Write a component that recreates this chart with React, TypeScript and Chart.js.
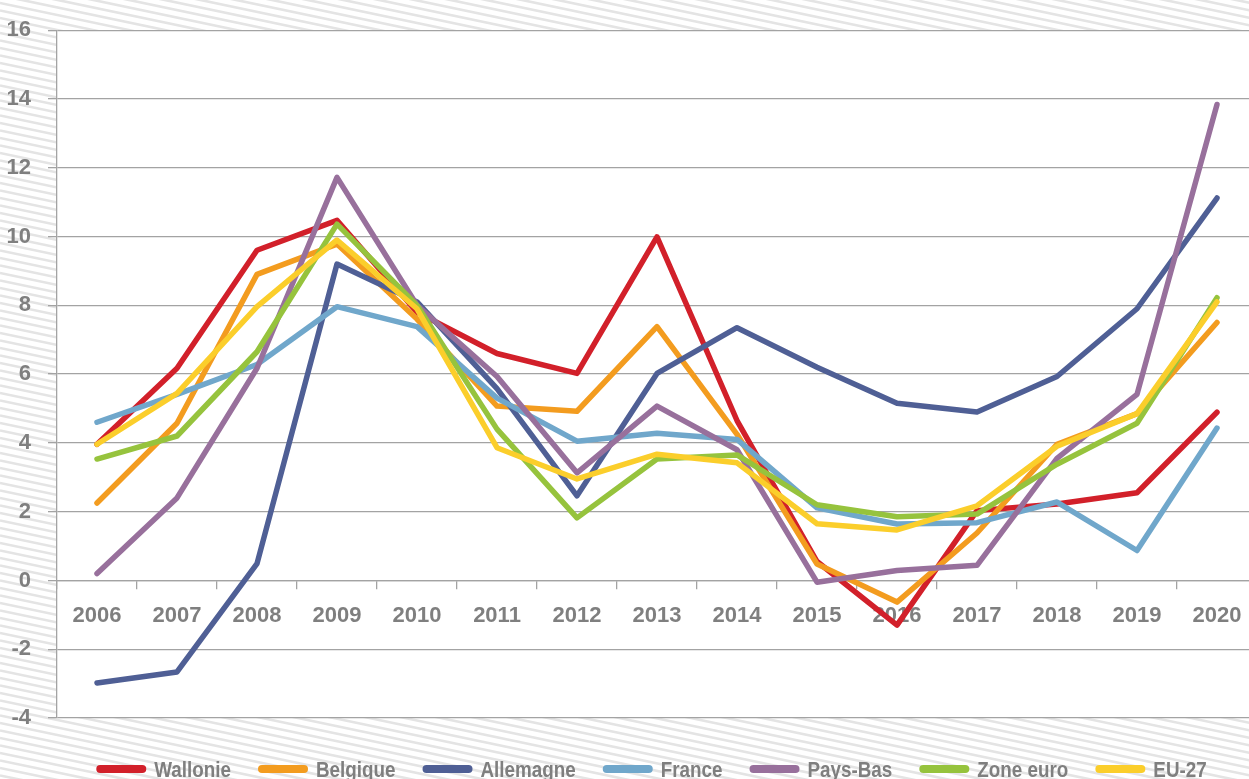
import React, { useEffect, useRef } from "react";
import { Chart, registerables } from "chart.js";

Chart.register(...registerables);

const years = ["2006","2007","2008","2009","2010","2011","2012","2013","2014","2015","2016","2017","2018","2019","2020"];
const wallonie = [3.96, 6.17, 9.6, 10.47, 7.8, 6.6, 6.02, 9.99, 4.65, 0.55, -1.3, 2.03, 2.22, 2.55, 4.89];
const belgique = [2.25, 4.57, 8.9, 9.78, 7.6, 5.07, 4.92, 7.38, 4.25, 0.48, -0.63, 1.38, 3.96, 4.85, 7.5];
const allemagne = [-2.98, -2.66, 0.49, 9.2, 8.1, 5.58, 2.46, 6.02, 7.35, 6.2, 5.15, 4.9, 5.93, 7.9, 11.12];
const france = [4.6, 5.41, 6.28, 7.96, 7.38, 5.3, 4.05, 4.28, 4.1, 2.11, 1.64, 1.68, 2.28, 0.87, 4.43];
const paysBas = [0.2, 2.4, 6.17, 11.72, 8.0, 5.93, 3.13, 5.07, 3.8, -0.05, 0.29, 0.44, 3.55, 5.41, 13.84];
const zoneEuro = [3.53, 4.2, 6.65, 10.36, 8.0, 4.4, 1.82, 3.53, 3.65, 2.2, 1.85, 1.93, 3.38, 4.57, 8.22];
const eu27 = [3.96, 5.44, 7.96, 9.9, 7.9, 3.86, 2.95, 3.67, 3.42, 1.65, 1.47, 2.17, 3.9, 4.85, 8.1];

const seriesNames = ["Wallonie", "Belgique", "Allemagne", "France", "Pays-Bas", "Zone euro", "EU-27"];
const seriesData = [wallonie, belgique, allemagne, france, paysBas, zoneEuro, eu27];
const seriesColors = ["#D2202A", "#F39C1F", "#4F5F95", "#70A7CB", "#98709C", "#96C33D", "#FBCE2B"];

const yMin = -4;
const yMax = 16;
const yStep = 2;

const GRID = "#a3a3a3";
const TEXT = "#7f7f7f";
const TICK_FONT = '"Liberation Sans", Arial, sans-serif';
const LEGEND_FONT = '"Liberation Sans", Arial, sans-serif';

const hatchPlugin = {
  id: "hatch",
  beforeDraw(chart: any) {
    const { ctx, width, height, chartArea } = chart;
    ctx.save();
    ctx.fillStyle = "#ffffff";
    ctx.fillRect(0, 0, width, height);
    ctx.strokeStyle = "#e4e4e4";
    ctx.lineWidth = 2.6;
    const slope = 0.21;
    const step = 7.5;
    for (let y = -width * slope - 10; y < height + 10; y += step) {
      ctx.beginPath();
      ctx.moveTo(0, y);
      ctx.lineTo(width, y + width * slope);
      ctx.stroke();
    }
    ctx.fillStyle = "#ffffff";
    ctx.fillRect(chartArea.left, chartArea.top, chartArea.right - chartArea.left, chartArea.bottom - chartArea.top);
    ctx.restore();
  },
};

const legendPlugin = {
  id: "customLegend",
  afterDraw(chart: any) {
    const { ctx } = chart;
    const ds = chart.data.datasets;
    const lineW = 50;
    const gapText = 8;
    const gapItem = 27;
    const cy = 769;
    const centerX = 651.5;
    const sx = 0.837;
    ctx.save();
    ctx.font = `bold 22.5px ${LEGEND_FONT}`;
    const widths = ds.map((d: any) => ctx.measureText(d.label).width * sx);
    let total = 0;
    widths.forEach((w: number, i: number) => {
      total += lineW + gapText + w + (i < widths.length - 1 ? gapItem : 0);
    });
    let x = centerX - total / 2;
    ds.forEach((d: any, i: number) => {
      ctx.strokeStyle = d.borderColor;
      ctx.lineWidth = 8;
      ctx.lineCap = "round";
      ctx.beginPath();
      ctx.moveTo(x + 4, cy);
      ctx.lineTo(x + lineW - 4, cy);
      ctx.stroke();
      ctx.save();
      ctx.translate(x + lineW + gapText, cy + 7.5);
      ctx.scale(sx, 1);
      ctx.fillStyle = TEXT;
      ctx.textBaseline = "alphabetic";
      ctx.textAlign = "left";
      ctx.fillText(d.label, 0, 0);
      ctx.restore();
      x += lineW + gapText + widths[i] + gapItem;
    });
    ctx.restore();
  },
};

export default function App() {
  const ref = useRef<HTMLCanvasElement | null>(null);
  useEffect(() => {
    if (!ref.current) return;
    const n = seriesNames.length;
    const chart = new Chart(ref.current, {
      type: "line",
      data: {
        labels: years,
        datasets: seriesNames.map((name, i) => ({
          label: name,
          data: seriesData[i],
          borderColor: seriesColors[i],
          backgroundColor: seriesColors[i],
          borderWidth: 5.5,
          pointRadius: 0,
          pointHoverRadius: 0,
          tension: 0,
          borderCapStyle: "round",
          borderJoinStyle: "round",
          fill: false,
          order: n - i,
        })),
      },
      options: {
        animation: false,
        responsive: false,
        devicePixelRatio: 1,
        layout: { padding: { top: 27, bottom: 61, left: 0, right: 3 } },
        plugins: {
          legend: { display: false },
          tooltip: { enabled: false },
        },
        scales: {
          x: {
            type: "category",
            position: { y: 0 } as any,
            offset: true,
            grid: {
              display: true,
              drawOnChartArea: false,
              drawTicks: true,
              tickLength: 8,
              offset: true,
              color: GRID,
              lineWidth: 1.3,
            },
            border: { display: true, color: GRID, width: 1.3 },
            ticks: {
              color: TEXT,
              font: { family: TICK_FONT, size: 22, weight: "bold" },
              padding: 14,
              maxRotation: 0,
              autoSkip: false,
            },
          },
          y: {
            min: yMin,
            max: yMax,
            afterFit(scale: any) {
              scale.width = 57;
            },
            grid: {
              color: GRID,
              lineWidth: 1.3,
              drawTicks: true,
              tickLength: 9,
            },
            border: { display: true, color: GRID, width: 1.3 },
            ticks: {
              stepSize: yStep,
              color: TEXT,
              font: { family: TICK_FONT, size: 22, weight: "bold" },
              padding: 17,
            },
          },
        },
      },
      plugins: [hatchPlugin, legendPlugin],
    });
    return () => chart.destroy();
  }, []);

  return (
    <div style={{ position: "fixed", left: 0, top: 0, width: 1249, height: 779, overflow: "hidden", background: "#fff" }}>
      <canvas ref={ref} width={1260} height={779} style={{ width: 1260, height: 779, display: "block" }} />
    </div>
  );
}
